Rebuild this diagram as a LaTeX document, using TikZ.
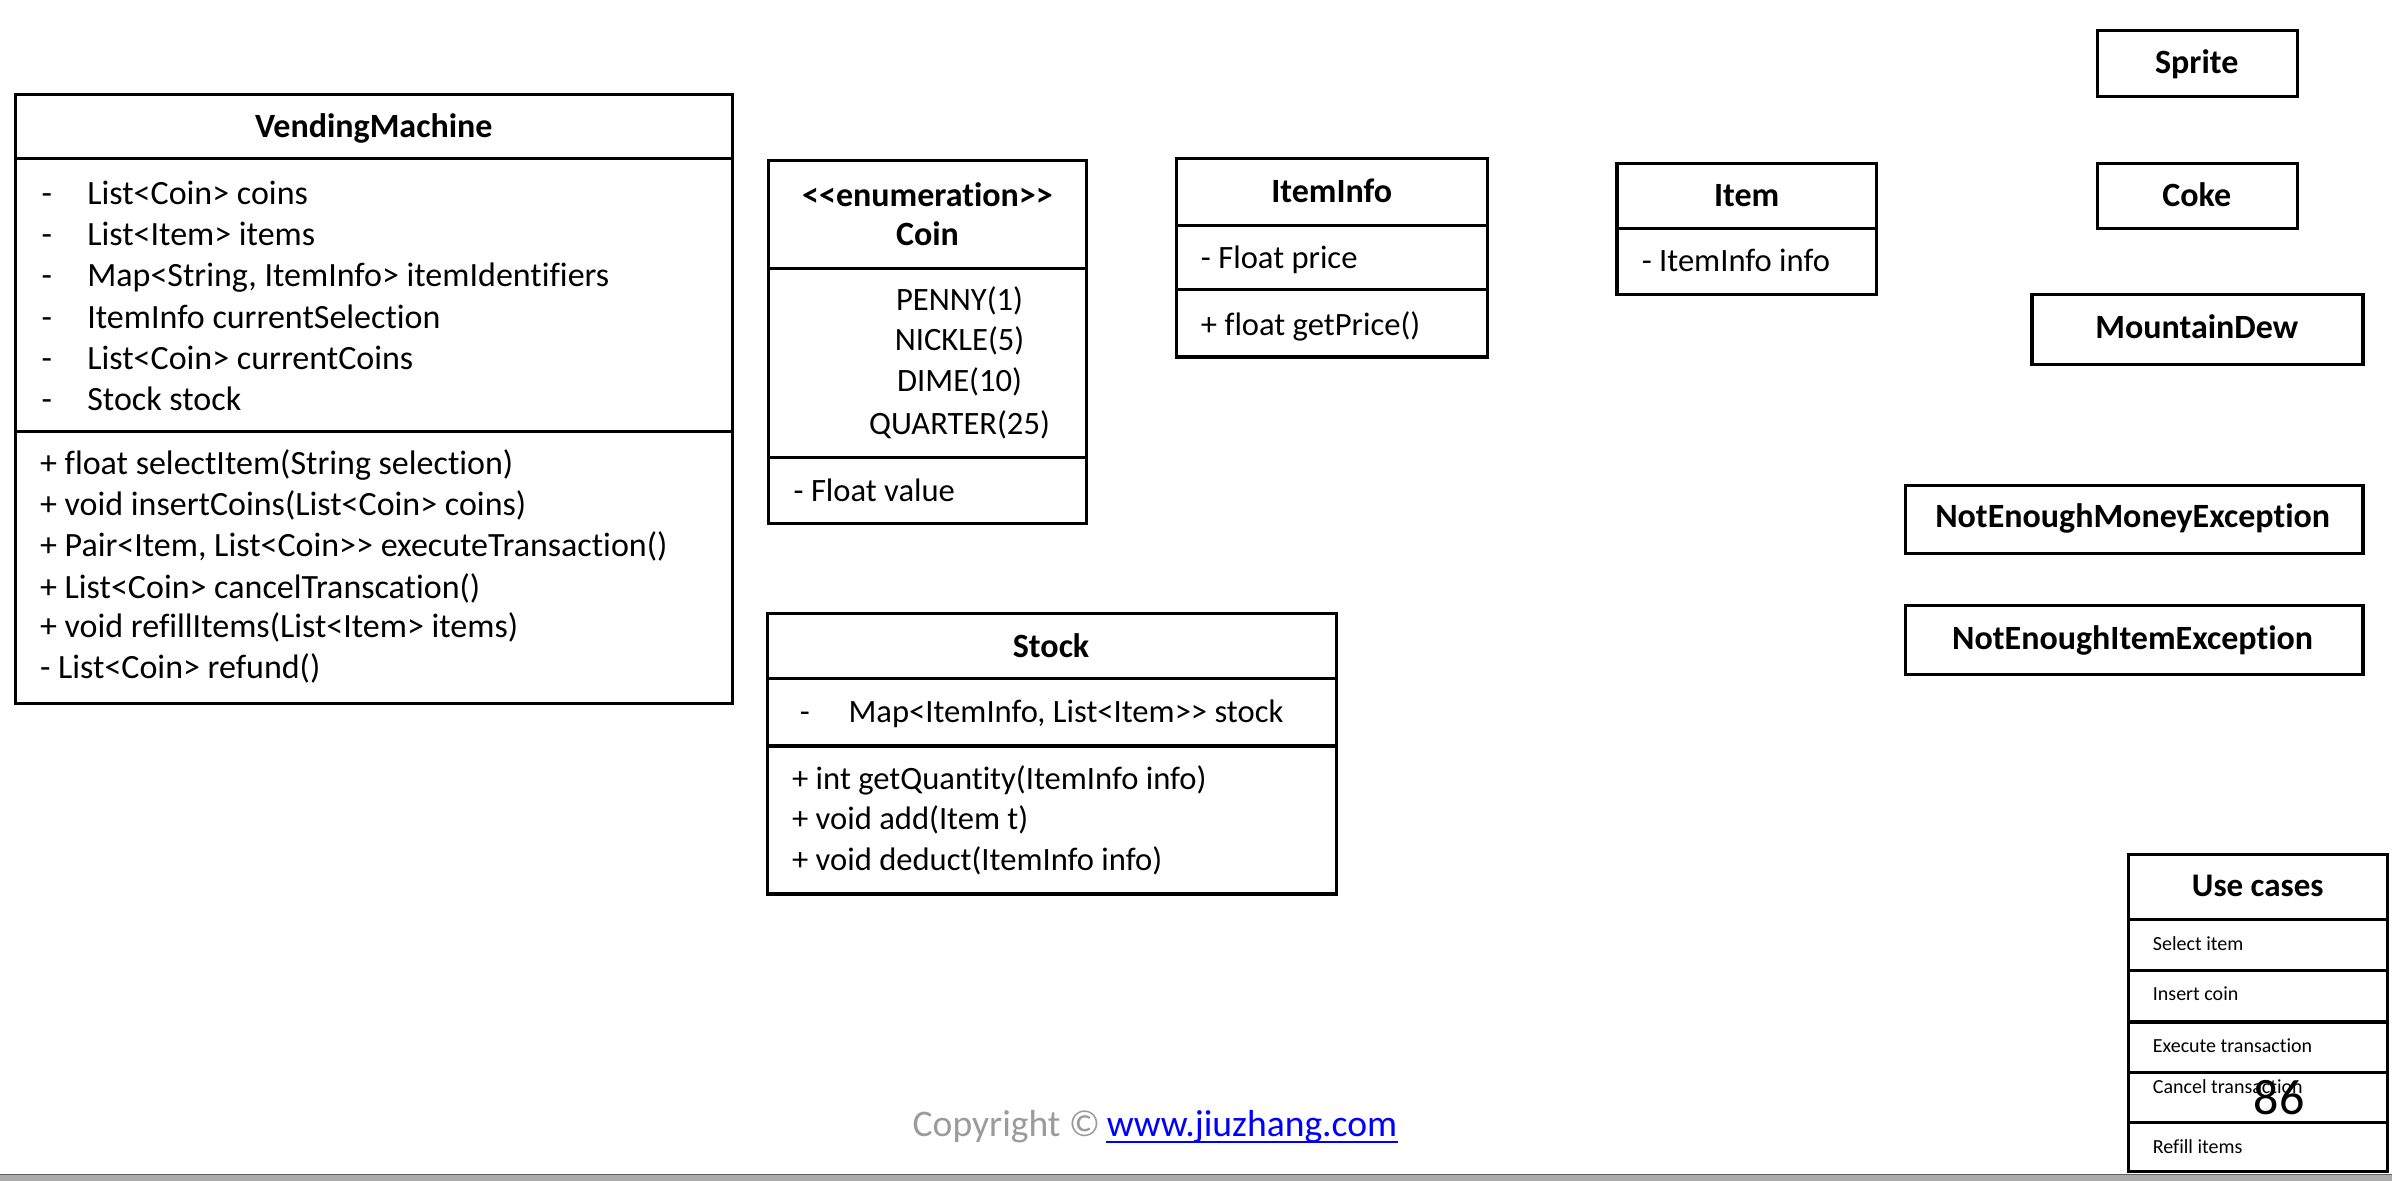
\documentclass[tikz,border=0pt]{standalone}
\usepackage{fontspec}
\setmainfont{Carlito}[Ligatures=NoCommon]
\definecolor{barfill}{RGB}{170,170,170}
\definecolor{barline}{RGB}{96,96,96}
\definecolor{copygray}{RGB}{155,155,155}
\definecolor{linkblue}{RGB}{0,0,255}
\tikzset{
  box/.style={draw=black, line width=1.6pt},
  vmtxt/.style={anchor=west, inner sep=0pt, font=\fontsize{17}{20}\selectfont, text height=10.75pt, text depth=0pt},
  ctxt/.style={anchor=west, inner sep=0pt, font=\fontsize{16.3}{19}\selectfont, text height=10.3pt, text depth=0pt},
  cctr/.style={anchor=center, inner sep=0pt, font=\fontsize{16.3}{19}\selectfont, text height=10.3pt, text depth=0pt},
  ttl/.style={anchor=center, inner sep=0pt, font=\fontsize{17}{20}\selectfont\bfseries, text height=10.75pt, text depth=0pt},
  uttl/.style={anchor=center, inner sep=0pt, font=\fontsize{16.5}{19}\selectfont\bfseries, text height=10.4pt, text depth=0pt},
  utxt/.style={anchor=west, inner sep=0pt, font=\fontsize{10}{12}\selectfont, text height=6.3pt, text depth=0pt},
}
\begin{document}
\begin{tikzpicture}[x=0.7628pt, y=-0.7628pt]
\useasboundingbox (0,0) rectangle (1568,774);

% ---------- VendingMachine ----------
\draw[box] (10,62) rectangle (480,461);
\draw[box] (10,104) -- (480,104);
\draw[box] (10,283) -- (480,283);
\node[ttl] (vmT) at (245,83) {VendingMachine};
\node[vmtxt] (vmd1) at (27,127) {-};
\node[vmtxt] (vma1) at (57,127) {List<Coin> coins};
\node[vmtxt] (vmd2) at (27,154) {-};
\node[vmtxt] (vma2) at (57,154) {List<Item> items};
\node[vmtxt] (vmd3) at (27,181) {-};
\node[vmtxt] (vma3) at (57,181) {Map<String, ItemInfo> itemIdentifiers};
\node[vmtxt] (vmd4) at (27,208) {-};
\node[vmtxt] (vma4) at (57,208) {ItemInfo currentSelection};
\node[vmtxt] (vmd5) at (27,235) {-};
\node[vmtxt] (vma5) at (57,235) {List<Coin> currentCoins};
\node[vmtxt] (vmd6) at (27,262) {-};
\node[vmtxt] (vma6) at (57,262) {Stock stock};
\node[vmtxt] (vmm1) at (26,304) {+ float selectItem(String selection)};
\node[vmtxt] (vmm2) at (26,331) {+ void insertCoins(List<Coin> coins)};
\node[vmtxt] (vmm3) at (26,358) {+ Pair<Item, List<Coin>\kern0pt> executeTransaction()};
\node[vmtxt] (vmm4) at (26,385) {+ List<Coin> cancelTranscation()};
\node[vmtxt] (vmm5) at (26,411) {+ void refillItems(List<Item> items)};
\node[vmtxt] (vmm6) at (26,438) {- List<Coin> refund()};

% ---------- Coin ----------
\draw[box] (504,105) rectangle (712,343);
\draw[box] (504,176) -- (712,176);
\draw[box] (504,300) -- (712,300);
\node[ttl] (coinS) at (608,128) {<\kern0pt<enumeration>\kern0pt>};
\node[ttl] (coinT) at (608,154) {Coin};
\node[cctr] (coin1) at (629,197) {PENNY(1)};
\node[cctr] (coin2) at (629,223) {NICKLE(5)};
\node[cctr] (coin3) at (629,250) {DIME(10)};
\node[cctr] (coin4) at (629,278) {QUARTER(25)};
\node[ctxt] (coinA) at (520,322) {- Float value};

% ---------- ItemInfo ----------
\draw[box] (771,104) rectangle (975,234);
\draw[box] (771,148) -- (975,148);
\draw[box] (771,190) -- (975,190);
\node[ttl] (iiT) at (873,126) {ItemInfo};
\node[ctxt] (iiA) at (787,169) {- Float price};
\node[ctxt] (iiM) at (787,213) {+ float getPrice()};

% ---------- Item ----------
\draw[box] (1060,107) rectangle (1230,193);
\draw[box] (1060,150) -- (1230,150);
\node[ttl] (itT) at (1145,128) {Item};
\node[ctxt] (itA) at (1076,171) {- ItemInfo info};

% ---------- Stock ----------
\draw[box] (503,402) rectangle (876,586);
\draw[box] (503,445) -- (876,445);
\draw[box] (503,489) -- (876,489);
\node[ttl] (stT) at (689,424) {Stock};
\node[ctxt] (std1) at (524,467) {-};
\node[ctxt] (stA) at (556,467) {Map<ItemInfo, List<Item>\kern0pt> stock};
\node[ctxt] (stM1) at (519,511) {+ int getQuantity(ItemInfo info)};
\node[ctxt] (stM2) at (519,537) {+ void add(Item t)};
\node[ctxt] (stM3) at (519,564) {+ void deduct(ItemInfo info)};

% ---------- right boxes ----------
\draw[box] (1375,20) rectangle (1506,63);
\node[ttl] (sprite) at (1440,41) {Sprite};
\draw[box] (1375,107) rectangle (1506,150);
\node[ttl] (coke) at (1440,128) {Coke};
\draw[box] (1332,193) rectangle (1549,239);
\node[ttl] (dew) at (1440,215) {MountainDew};
\draw[box] (1249,318) rectangle (1549,363);
\node[ttl] (nem) at (1398,339) {NotEnoughMoneyException};
\draw[box] (1249,397) rectangle (1549,442);
\node[ttl] (nei) at (1398,419) {NotEnoughItemException};

% ---------- Use cases ----------
\draw[box] (1395,560) rectangle (1565,768);
\foreach \yy in {603,636,670,703,736} \draw[box] (1395,\yy) -- (1565,\yy);
\node[uttl] (ucT) at (1480,581) {Use cases};
\node[utxt] (uc1) at (1411,619) {Select item};
\node[utxt] (uc2) at (1411,652) {Insert coin};
\node[utxt] (uc3) at (1411,686) {Execute transaction};
\node[utxt] (uc4) at (1411,713) {Cancel transaction};
\node[utxt] (uc5) at (1411,752) {Refill items};
\node[anchor=center, inner sep=0pt, font=\fontsize{25}{28}\selectfont, text height=15.8pt, text depth=0pt] (pnum) at (1494,720) {86};

% ---------- footer ----------
\node[anchor=west, inner sep=0pt, font=\fontsize{18.8}{22}\selectfont, text height=11.9pt, text depth=0pt, text=copygray] (copy) at (598,737) {Copyright \textcopyright};
\node[anchor=base west, inner sep=0pt, font=\fontsize{18.8}{22}\selectfont, text=linkblue] (link) at ([xshift=0.28em]copy.base east) {www.jiuzhang.com};
\draw[linkblue, line width=1pt] ([yshift=-3pt]link.base west) -- ([yshift=-3pt]link.base east);
\fill[barfill] (0,769.6) rectangle (1568,774);
\draw[barline, line width=0.5pt] (0,769.9) -- (1568,769.9);
\end{tikzpicture}
\end{document}
